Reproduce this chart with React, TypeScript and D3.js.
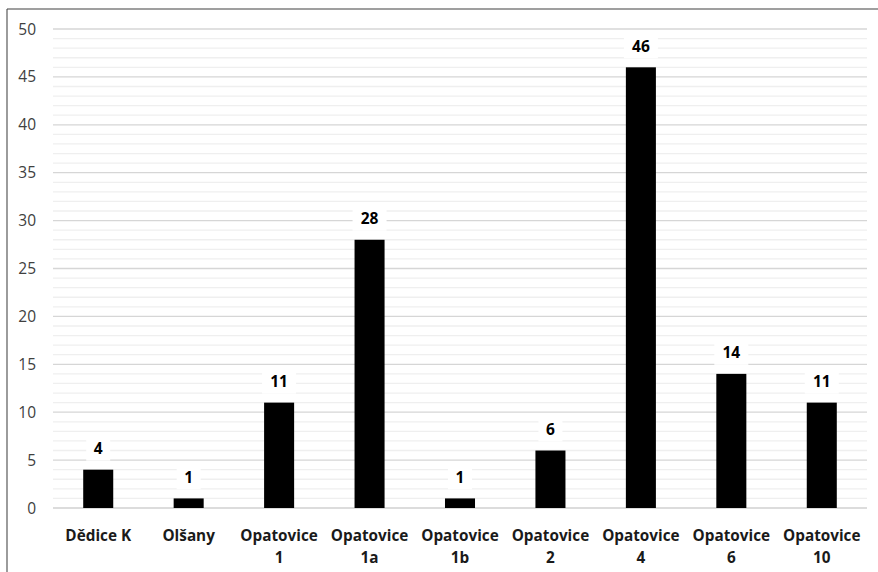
import React from "react";
import * as d3 from "d3";

const categories: string[][] = [
  ["Dědice K"],
  ["Olšany"],
  ["Opatovice", "1"],
  ["Opatovice", "1a"],
  ["Opatovice", "1b"],
  ["Opatovice", "2"],
  ["Opatovice", "4"],
  ["Opatovice", "6"],
  ["Opatovice", "10"],
];
const values: number[] = [4, 1, 11, 28, 1, 6, 46, 14, 11];
const yTicks: number[] = [0, 5, 10, 15, 20, 25, 30, 35, 40, 45, 50];
const minorTicks: number[] = d3.range(0, 51, 1);

const W = 878;
const H = 572;
const left = 53;
const right = 867;
const top = 29;
const bottom = 508;

export default function App() {
  const keys = categories.map((c) => c.join(" "));
  const x = d3.scaleBand<string>().domain(keys).range([left, right]).paddingInner(0.668).paddingOuter(0.334);
  const y = d3.scaleLinear().domain([0, 50]).range([bottom, top]);
  const font = "'Open Sans', sans-serif";
  return (
    <svg width={W} height={H} style={{ position: "absolute", left: 0, top: 0, background: "#fff" }}>
      <rect x={0} y={0} width={W} height={H} fill="#fff" />
      <line x1={7} x2={7} y1={9} y2={H} stroke="#595959" strokeWidth={1.2} />
      <line x1={7} x2={W} y1={9} y2={9} stroke="#404040" strokeWidth={1.2} />
      {minorTicks.filter((t) => t % 5 !== 0).map((t) => (
        <line key={"m" + t} x1={left} x2={right} y1={y(t)} y2={y(t)} stroke="#efefef" strokeWidth={1.3} />
      ))}
      {yTicks.map((t) => (
        <line key={"g" + t} x1={left} x2={right} y1={y(t)} y2={y(t)} stroke={t === 0 ? "#d0d0d0" : "#d6d6d6"} strokeWidth={1.3} />
      ))}
      {yTicks.map((t) => (
        <text key={"t" + t} x={36} y={y(t)} dy="0.36em" textAnchor="end" fontFamily={font} fontSize={15.5} fill="#404040">
          {t}
        </text>
      ))}
      {values.map((v, i) => {
        const k = keys[i];
        const bx = x(k)!;
        const bw = x.bandwidth();
        const cx = bx + bw / 2;
        const ty = y(v) - 21;
        const label = String(v);
        const lw = label.length * 10 + 14;
        return (
          <g key={k}>
            <rect x={bx} y={y(v)} width={bw} height={y(0) - y(v)} fill="#000" />
            <rect x={cx - lw / 2} y={ty - 12} width={lw} height={24} fill="#fff" />
            <text x={cx} y={ty} dy="0.36em" textAnchor="middle" fontFamily={font} fontWeight="bold" fontSize={15.5} fill="#000">
              {label}
            </text>
          </g>
        );
      })}
      {categories.map((c, i) => {
        const cx = x(keys[i])! + x.bandwidth() / 2;
        return (
          <text key={"c" + i} textAnchor="middle" fontFamily={font} fontWeight="bold" fontSize={15.3} fill="#1a1a1a">
            {c.map((line, j) => (
              <tspan key={j} x={cx} y={541 + j * 22}>
                {line}
              </tspan>
            ))}
          </text>
        );
      })}
    </svg>
  );
}
